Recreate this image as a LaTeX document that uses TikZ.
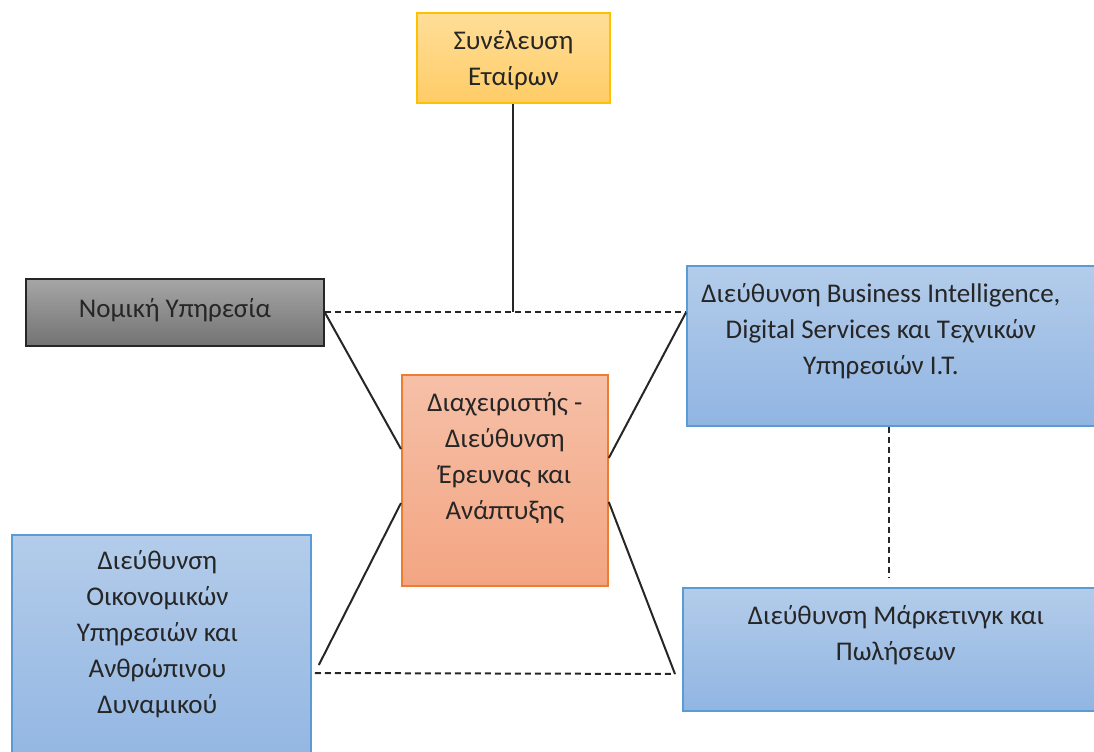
\documentclass[tikz,border=0pt]{standalone}
\usepackage{fontspec}
\setmainfont{Carlito}
\usetikzlibrary{calc,positioning}

\definecolor{unitblue}{RGB}{91,155,213}
\definecolor{unitorange}{RGB}{237,125,49}
\definecolor{unitgold}{RGB}{255,192,0}

\begin{document}
\begin{tikzpicture}[
  x=0.5pt,y=-0.5pt,
  line width=0.75pt,
  every node/.style={font=\fontsize{13.5}{18}\selectfont,align=center,text=black!85},
  unit/.style={draw,anchor=north west,inner sep=0pt,line width=0.9pt},
  txt/.style={anchor=north,inner sep=0pt,yshift=-9pt},
  blueunit/.style={unit,draw=unitblue,top color={rgb,255:red,179;green,204;blue,234},bottom color={rgb,255:red,145;green,181;blue,226}},
  link/.style={line width=1pt,black!85},
  sublink/.style={line width=1pt,black!85,dash pattern=on 3pt off 2pt}
]%
  \useasboundingbox (0,0) rectangle (1094,751);
  \clip (0,0) rectangle (1094,751);

  % units
  \node[unit,draw=unitgold,top color={rgb,255:red,255;green,222;blue,153},bottom color={rgb,255:red,255;green,204;blue,102},
    minimum width=96.5pt,minimum height=45pt,
    label={[txt]north:Συνέλευση\\Εταίρων}] (se) at (416,12) {};
  \node[unit,draw=black!85,top color=black!35,bottom color=black!55,
    minimum width=149pt,minimum height=33.5pt,
    label={[txt,yshift=-1pt]north:Νομική Υπηρεσία}] (ny) at (25,278) {};
  \node[unit,draw=unitorange,top color={rgb,255:red,246;green,192;blue,168},bottom color={rgb,255:red,243;green,165;blue,130},
    minimum width=103pt,minimum height=105.5pt,
    label={[txt]north:Διαχειριστής -\\Διεύθυνση\\Έρευνας και\\Ανάπτυξης}] (de) at (401,374) {};
  \node[blueunit,minimum width=220pt,minimum height=80pt,
    label={[txt,xshift=-13pt]north:Διεύθυνση Business Intelligence,\\Digital Services και Τεχνικών\\Υπηρεσιών I.T.}] (bi) at (686,265) {};
  \node[blueunit,minimum width=220pt,minimum height=61.5pt,
    label={[txt,xshift=-3.5pt]north:Διεύθυνση Μάρκετινγκ και\\Πωλήσεων}] (dm) at (682,587) {};
  \node[blueunit,minimum width=149.5pt,minimum height=120pt,
    label={[txt,xshift=-2pt,yshift=1pt]north:Διεύθυνση\\Οικονομικών\\Υπηρεσιών και\\Ανθρώπινου\\Δυναμικού}] (do) at (11,534) {};

  % links
  \coordinate (nyr) at (ny.east);
  \coordinate (bil) at (nyr -| bi.west);
  \coordinate (dol) at ($(do.north east)+(3,139)$);
  \coordinate (dmr) at ($(dm.north west)+(-7,87)$);

  \draw[link] (se.south) -- (se.south |- nyr);
  \draw[sublink] (nyr) -- (bil);
  \draw[link] (nyr) -- ($(de.north west)+(0,75)$);
  \draw[link] (bil) -- ($(de.north east)+(0,84)$);
  \draw[link] ($(de.north west)+(0,129)$) -- ($(dol)+(4,-8)$);
  \draw[link] ($(de.north east)+(0,128)$) -- (dmr);
  \draw[sublink] (dol) -- (dmr);
  \draw[sublink] ($(ny.south west)+(133,0)$) -- ($(ny.south west)+(133,0)$ |- do.north);
  \draw[sublink] ($(bi.south west)+(203,0)$) -- ($(dm.north west)+(207,-10)$);
\end{tikzpicture}
\end{document}
